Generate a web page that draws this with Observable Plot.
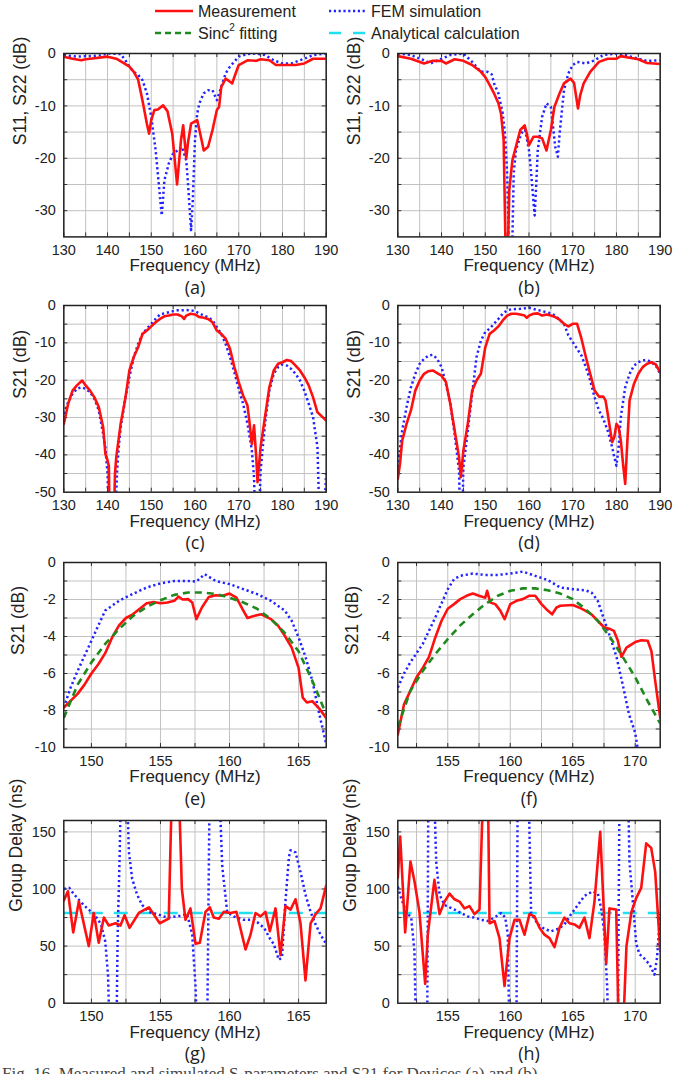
<!DOCTYPE html>
<html><head><meta charset="utf-8">
<script src="https://cdn.jsdelivr.net/npm/d3@7"></script>
<script src="https://cdn.jsdelivr.net/npm/@observablehq/plot@0.6"></script>
<style>
body{margin:0;background:#fff;}
#page{position:relative;width:674px;height:1074px;overflow:hidden;font-family:"Liberation Sans",Arial,sans-serif;color:#222;}
.panel{position:absolute;}
#legend{position:absolute;left:0;top:0;}
#figcap{position:absolute;left:2px;top:1064px;font-family:"Liberation Serif","Times New Roman",serif;font-size:17px;color:#444;white-space:nowrap;}
</style></head><body><div id="page">
<svg id="legend" width="674" height="46" font-family="Liberation Sans, Arial, sans-serif" font-size="16" fill="#222">
  <line x1="155" x2="193" y1="11" y2="11" stroke="#ff1010" stroke-width="2.5"/>
  <text x="198" y="11" dominant-baseline="central">Measurement</text>
  <line x1="329" x2="366" y1="11" y2="11" stroke="#2323ff" stroke-width="2.5" stroke-dasharray="2.2 2.6"/>
  <text x="371" y="11" dominant-baseline="central">FEM simulation</text>
  <line x1="155" x2="193" y1="33" y2="33" stroke="#1e8a1e" stroke-width="2.5" stroke-dasharray="6 4"/>
  <text x="198" y="33" dominant-baseline="central">Sinc<tspan dy="-6" font-size="10">2</tspan><tspan dy="6"> fitting</tspan></text>
  <line x1="329" x2="366" y1="33" y2="33" stroke="#1fe0f0" stroke-width="2.5" stroke-dasharray="12 12"/>
  <text x="371" y="33" dominant-baseline="central">Analytical calculation</text>
</svg>
<div id="figcap">Fig. 16. Measured and simulated S-parameters and S21 for Devices (a) and (b)</div>
</div>
<script>
// ---------- data ----------
const a_meas = [[130,-0.6],[132,-1.0],[134,-1.3],[135,-1.1],[137,-0.9],[140,-0.6],[142,-1.0],[144,-2.0],[145,-2.5],[146,-3.5],[147,-5],[148,-9],[149,-13.4],[149.5,-15.3],[150,-12.7],[150.7,-10.8],[151.5,-10.7],[152.7,-9.9],[153.7,-11],[154.8,-15.3],[155.9,-25],[156.8,-16.5],[157.3,-13.7],[158,-20],[158.4,-17],[159.1,-13.4],[160.5,-12.7],[161.5,-16.5],[162,-18.5],[163,-17.8],[164,-14.6],[165,-10.8],[165.5,-10.2],[166,-6.4],[167,-4.8],[168,-5.4],[168.5,-5.7],[169.2,-4],[170,-2.2],[172,-1.3],[174,-1.4],[175,-1.1],[177,-1.3],[178.5,-2.2],[180,-2.2],[183,-2.2],[185,-1.9],[187,-1.0],[190,-1.0]];
const a_fem = [[130,-0.3],[133,-0.6],[136,-0.5],[138,-0.4],[140,0],[143,-0.1],[144,-1.2],[145,-2.5],[146,-3.5],[147,-4.1],[148,-5.1],[149,-7.6],[150,-12.1],[151,-18.5],[152,-27.4],[152.4,-30.9],[153,-24.2],[154,-21],[155,-19.1],[156,-18.5],[157,-17.8],[158,-20.4],[158.5,-26],[159.1,-33.7],[159.5,-28],[160,-16.5],[160.5,-11.5],[161,-9.5],[162,-7.6],[163,-7],[164,-7],[165,-8.9],[166,-6.4],[167,-3.8],[168,-2.5],[170,-0.6],[172,-0.1],[174,0],[176,-0.3],[178,-1.3],[180,-1.9],[182,-1.9],[185,-1.0],[187,-0.3],[190,0]];
const b_meas = [[130,-0.5],[133,-1],[136,-1.9],[138,-1.4],[140,-1.4],[141,-1.9],[143,-1.1],[145,-1.4],[147,-2.2],[149,-3.5],[150,-4.5],[151,-6],[152,-7.6],[153,-9.5],[153.6,-11.5],[154.2,-16.5],[154.7,-40],[155.1,-40],[155.5,-26],[156.2,-20.4],[157,-17.8],[158,-14.6],[159,-13.7],[159.5,-15.3],[160,-17.5],[161,-15.9],[162,-15.9],[163,-16.2],[164,-18.5],[165,-14.6],[165.8,-10.2],[167,-7.6],[168,-5.7],[169.5,-4.8],[170.3,-5.6],[171.2,-10.5],[171.7,-8.0],[172.5,-5.7],[174,-3.5],[176,-1.6],[178,-1.0],[180,-1.0],[181,-0.5],[183,-0.8],[185,-1.1],[187,-1.8],[190,-2]];
const b_fem = [[130,0],[133,-0.3],[136,-1.3],[137.5,-1.9],[140,-1],[142,-0.3],[145,0],[147,-1.6],[149,-3.5],[150.5,-3.5],[151.5,-4.0],[152,-5.7],[153,-7.6],[154,-11.5],[154.5,-15.3],[155,-22.9],[155.5,-40],[156.1,-40],[156.5,-22.9],[157,-18.5],[158,-15.9],[159,-14],[160,-18.5],[160.5,-22.9],[161,-28],[161.3,-30.9],[161.7,-24.2],[162,-18.5],[163,-12.1],[164,-9.5],[165,-10.2],[165.5,-14],[166,-17.8],[166.6,-19.7],[167,-15.3],[168,-7],[169,-3.8],[170,-2.2],[171,-1.6],[173,-1.9],[175,-1.3],[177,-0.3],[180,0],[182,-0.3],[185,-1],[187,-1.4],[190,-1.3]];
const c_meas = [[130,-31.7],[131,-26.3],[132,-22.8],[133,-21.4],[134.2,-20.1],[135,-21.4],[136,-22.8],[137,-24.6],[138,-27.2],[139,-32.6],[139.5,-39.7],[140,-41.5],[140.3,-43],[140.45,-55],[141.5,-55],[141.7,-45],[142,-40.6],[143,-31.7],[144,-25.4],[145,-17.4],[146,-13.8],[147,-11.2],[148,-7.6],[149,-6.7],[150,-5.6],[151,-4.5],[152,-3.6],[153,-2.9],[154,-2.7],[155,-2.4],[156,-2.4],[157,-2.9],[157.5,-3.6],[158,-2.7],[159,-2.2],[160,-2.4],[161,-3.1],[162,-3.3],[163,-3.6],[164,-4.5],[165,-6.7],[166,-7.6],[167,-8.9],[168,-11.6],[169,-16.5],[170,-20.5],[171,-24.1],[172,-26.8],[172.5,-31.7],[173,-37.1],[173.5,-32.1],[174,-40.6],[174.3,-47.3],[175,-37.9],[176,-29.9],[177,-21.9],[178,-17.4],[179,-15.6],[180,-15.2],[181,-14.6],[182,-14.9],[183,-16.1],[184,-17.4],[185,-19.2],[186,-21.4],[187,-24.6],[188,-28.6],[189,-29.7],[190,-30.8]];
const c_fem = [[130,-29],[131,-25.9],[132,-23.7],[133,-22.3],[134,-21.9],[135,-22.3],[136,-23.2],[137,-25],[138,-28.1],[139,-34.4],[139.5,-38],[140,-45],[140.2,-55],[141.8,-55],[142.2,-44],[142.5,-38.8],[143,-32.6],[144,-25.4],[145,-19.2],[146,-13.8],[147,-10.3],[148,-7.6],[149,-6.2],[150,-4.9],[151,-3.6],[152,-2.4],[153,-2.1],[154,-1.8],[155,-1.5],[156,-1.3],[157,-1.3],[158,-1.2],[159,-1.3],[160,-1.5],[161,-2.1],[162,-2.7],[163,-3.1],[164,-4],[165,-5.8],[166,-7.6],[167,-10.3],[168,-13.8],[169,-17.9],[170,-22.3],[171,-26.3],[172,-31.7],[173,-38.8],[173.5,-46],[173.7,-55],[174.7,-55],[175,-44.2],[176,-31.7],[177,-22.8],[178,-18.3],[179,-16.5],[180,-15.8],[181,-16.1],[182,-17],[183,-18.3],[184,-20.1],[185,-22.8],[186,-26.3],[187,-29.9],[188,-37.9],[188.4,-55],[189.6,-55],[190,-44.6]];
const d_meas = [[130,-46.4],[130.5,-42.4],[131,-36.2],[132,-31.7],[133,-28.1],[134,-22.8],[135,-20.1],[136,-18.3],[137,-17.6],[138,-17.4],[139,-18.1],[140,-18.8],[141,-20.5],[142,-26.3],[143,-33.5],[144,-40.6],[144.4,-46],[145,-38.8],[146,-31.7],[147,-22.8],[148,-20.1],[149,-18.3],[150,-11.2],[151,-7.6],[152,-6.7],[153,-5.6],[154,-4],[155,-2.7],[156,-2.2],[157,-2.2],[158,-2.4],[159,-2.7],[159.5,-3.3],[160,-2.7],[161,-2.2],[162,-2.1],[163,-2.7],[164,-2.4],[165,-2.7],[166,-3.1],[167,-3.8],[168,-4.9],[169,-5.6],[170,-4.9],[171,-4.9],[172,-8.9],[173,-13.8],[174,-18.3],[175,-22.8],[176,-24.4],[177,-24.4],[177.5,-25.4],[178,-29],[179,-36.6],[179.5,-35.3],[180,-31.7],[180.5,-32.6],[181,-36.2],[181.5,-42.4],[182,-47.8],[182.5,-36.2],[183,-25.4],[184,-21],[185,-18.3],[186,-16.5],[187,-15.6],[188,-15.2],[189,-15.8],[190,-17.9]];
const d_fem = [[130,-43.3],[131,-33.5],[132,-27.2],[133,-21.9],[134,-18.3],[135,-15.6],[136,-14.3],[137,-13.4],[138,-13.2],[139,-14.3],[140,-16.5],[141,-21],[142,-26.3],[143,-34.4],[144,-44.2],[144.2,-55],[144.8,-55],[145,-43.3],[146,-33.5],[147,-23.7],[148,-13.8],[149,-9.4],[150,-7.1],[151,-6.2],[152,-4.9],[153,-3.6],[154,-2.2],[155,-1.3],[156,-1],[158,-0.9],[160,-0.6],[161,-0.9],[162,-1.2],[163,-1.5],[164,-1.8],[165,-2.1],[166,-2.7],[167,-3.8],[168,-4.9],[169,-8],[170,-9.8],[171,-11.6],[172,-13.4],[173,-16.5],[174,-20.1],[175,-24.6],[176,-28.1],[177,-30.4],[178,-33.5],[179,-37.9],[179.5,-40.6],[180,-42.9],[180.5,-37.9],[181,-29.9],[182,-21.9],[183,-18.3],[184,-16.1],[185,-15.2],[186,-14.7],[187,-14.6],[188,-15.2],[189,-16.1],[190,-18.3]];
const e_meas = [[148,-7.84],[149,-7.1],[149.5,-6.6],[150,-6.0],[150.5,-5.5],[151,-4.9],[151.5,-4.05],[152,-3.4],[152.5,-3.0],[153,-2.8],[153.5,-2.5],[154,-2.2],[154.5,-2.13],[155,-2.2],[155.5,-2.16],[156,-2.07],[156.3,-1.84],[156.6,-2.0],[157,-1.98],[157.3,-2.16],[157.6,-3.06],[158,-2.43],[158.5,-1.86],[159,-1.77],[159.5,-1.8],[160,-1.68],[160.5,-1.9],[161,-2.6],[161.3,-3.0],[161.7,-2.9],[162.3,-2.8],[163,-3.06],[163.5,-3.4],[164,-3.96],[164.5,-4.6],[165,-5.7],[165.3,-7.3],[165.6,-7.57],[166,-7.5],[166.5,-7.9],[167,-8.4]];
const e_fem = [[148,-7.84],[148.5,-6.75],[149,-5.86],[150,-4.23],[150.5,-3.4],[151,-2.6],[152,-2.07],[153,-1.7],[154,-1.35],[155,-1.13],[156,-1.0],[157,-1.0],[157.6,-1.03],[158.2,-0.63],[159,-1.0],[160,-1.17],[161,-1.44],[162,-1.71],[163,-2.07],[164,-2.6],[164.5,-3.15],[165,-4.05],[165.5,-5.1],[166,-6.4],[166.5,-8.2],[167,-9.8]];
const e_sinc = [[148,-8.4],[149,-6.6],[150,-5.4],[151,-4.4],[152,-3.6],[153,-2.9],[154,-2.4],[155,-2.04],[156,-1.75],[157,-1.62],[158,-1.62],[159,-1.7],[160,-1.9],[161,-2.16],[162,-2.5],[163,-3.06],[164,-3.8],[165,-4.8],[166,-6.4],[167,-8.2]];
const f_meas = [[151,-9.3],[151.5,-7.66],[152,-6.94],[152.5,-6.2],[153,-5.7],[153.5,-5.1],[154,-4.05],[154.5,-3.15],[155,-2.5],[155.5,-2.25],[156,-1.98],[156.5,-1.8],[157,-1.68],[157.5,-1.8],[158,-1.9],[158.15,-1.53],[158.4,-2.16],[158.8,-2.25],[159.2,-2.6],[159.55,-3.06],[160,-2.25],[160.5,-2.07],[161,-1.98],[161.5,-1.8],[162,-1.8],[162.5,-2.25],[163,-2.6],[163.35,-2.8],[163.7,-2.43],[164,-2.34],[165,-2.3],[165.5,-2.43],[166,-2.6],[166.5,-2.8],[167,-3.15],[167.5,-3.5],[168,-3.6],[168.3,-3.7],[168.6,-4.2],[168.9,-5.1],[169.3,-4.6],[170,-4.3],[170.5,-4.2],[171,-4.23],[171.3,-4.8],[171.6,-6.4],[172,-8.4]];
const f_fem = [[151,-6.76],[151.5,-6.0],[152,-5.4],[153,-4.4],[154,-2.97],[155,-1.44],[155.5,-0.9],[156,-0.72],[157,-0.6],[158,-0.67],[159,-0.67],[160,-0.6],[161,-0.49],[162,-0.72],[163,-0.95],[164,-1.35],[165,-1.44],[166,-1.5],[166.5,-1.62],[167,-2.07],[167.5,-3.06],[168,-4.05],[168.5,-5.1],[169,-6.6],[169.5,-8.2],[170,-9.2],[170.3,-10.5]];
const f_sinc = [[151,-8.9],[152,-6.94],[153,-5.86],[154,-4.95],[155,-4.14],[156,-3.4],[157,-2.8],[158,-2.25],[159,-1.8],[160,-1.53],[161,-1.4],[162,-1.4],[163,-1.5],[164,-1.68],[165,-1.98],[166,-2.5],[167,-3.15],[168,-4.05],[169,-5.1],[170,-6.2],[171,-7.5],[172,-8.7]];
const g_meas = [[148,90],[148.3,98],[148.68,62],[149.09,89],[149.81,50],[150.17,79],[150.53,53],[150.9,75],[151.26,68],[151.74,70],[152.1,68],[152.4,77],[152.76,66],[153.43,79],[154.16,84],[154.95,70],[155.6,74],[155.85,200],[156.3,200],[156.55,100],[156.81,73],[157.17,83],[157.54,52],[157.85,53],[158.26,80],[158.57,84],[158.86,75],[159.23,74],[159.59,80],[160.07,79],[160.5,80],[161.16,47],[161.52,60],[161.88,79],[162.24,76],[162.6,80],[162.92,63],[163.33,83],[163.69,42],[164.05,85],[164.42,82],[164.78,91],[165.14,70],[165.5,20],[165.87,70],[166.23,78],[166.59,83],[167,103]];
const g_fem = [[148,100],[148.4,101],[148.7,96],[149.2,89],[149.7,83],[150.2,78],[150.7,69],[151.0,54],[151.2,25],[151.33,-30],[151.81,-30],[151.9,60],[152.05,133],[152.15,200],[152.54,200],[152.71,133],[152.95,109],[153.31,95],[153.67,86],[154.16,80],[154.76,78],[155.48,75],[156.21,76],[156.93,78],[157.3,60],[157.54,14],[157.66,-30],[158.38,-30],[158.57,200],[159.23,200],[159.47,120],[159.83,80],[160.3,76],[161,73],[161.8,73],[162.5,66],[163.0,55],[163.2,52],[163.57,38],[163.8,40],[164.05,89],[164.3,128],[164.42,134],[164.78,132],[165.14,115],[165.5,95],[165.87,80],[166.23,69],[166.59,60],[167,52]];
const g_analytic = [[148,79],[167,79]];
const h_meas = [[151,110],[151.19,146],[151.59,62],[152.01,124],[152.33,107],[152.73,80],[153.19,17],[153.4,60],[153.93,108],[154.34,78],[154.74,89],[155.14,96],[155.54,91],[155.94,89],[156.34,83],[156.74,85],[157.14,78],[157.54,82],[157.86,200],[158.2,200],[158.34,70],[158.74,72],[159.14,57],[159.54,15],[159.94,57],[160.34,73],[160.74,73],[161.14,60],[161.54,78],[161.94,76],[162.34,66],[162.74,60],[163.14,57],[163.54,49],[163.94,66],[164.34,75],[164.74,70],[165.14,69],[165.54,66],[165.94,75],[166.34,57],[166.74,89],[167.2,150],[167.68,35],[167.94,83],[168.48,82],[168.69,-30],[169.01,-30],[169.3,50],[169.7,80],[170.08,92],[170.48,101],[170.88,140],[171.28,136],[171.6,115],[172,46]];
const h_fem = [[151,102],[151.27,92],[151.67,80],[152.07,75],[152.33,46],[152.47,-30],[153.35,-30],[153.45,200],[153.88,200],[154.07,124],[154.34,95],[154.74,86],[155.14,84],[155.54,82],[156.07,79],[156.6,76],[157.14,75],[157.67,73],[158.2,72],[158.74,75],[159.27,79],[159.6,75],[159.8,60],[159.94,-30],[160.49,-30],[160.6,200],[161.45,200],[161.67,79],[162.21,69],[162.74,65],[163.27,63],[163.81,65],[164.34,69],[164.87,78],[165.41,86],[165.94,94],[166.61,98],[167.01,96],[167.28,83],[167.54,60],[167.76,14],[167.86,-30],[168.61,-30],[168.75,200],[169.41,200],[169.54,124],[169.81,89],[170.08,52],[170.34,43],[170.74,39],[171.14,34],[171.54,25],[171.75,40],[172,78]];
const h_analytic = [[151,79],[172,79]];

const ticksWide = [130,140,150,160,170,180,190];
const gridWide = [130,135,140,145,150,155,160,165,170,175,180,185,190];
const ticksE = [150,155,160,165];
const gridE = [150,152.5,155,157.5,160,162.5,165];
const ticksF = [155,160,165,170];
const gridF = [152.5,155,157.5,160,162.5,165,167.5,170];
const yTicksA = [0,-10,-20,-30];
const yGridA = [0,-5,-10,-15,-20,-25,-30];
const yTicksC = [0,-10,-20,-30,-40,-50];
const yGridC = [0,-5,-10,-15,-20,-25,-30,-35,-40,-45];
const yTicksE = [0,-2,-4,-6,-8,-10];
const yGridE = [0,-1,-2,-3,-4,-5,-6,-7,-8,-9];
const yTicksG = [0,50,100,150];
const yGridG = [25,50,75,100,125,150];
const captions = ["(a)","(b)","(c)","(d)","(e)","(f)","(g)","(h)"];

// ---------- styles ----------
const ST = {
  meas: {stroke:"#ff1010", strokeWidth:2.6},
  fem: {stroke:"#2323ff", strokeWidth:2.5, strokeDasharray:"2.2 2.8", strokeLinecap:"butt"},
  sinc: {stroke:"#1e8a1e", strokeWidth:2.6, strokeDasharray:"7 5", strokeLinecap:"butt"},
  ana: {stroke:"#1fe0f0", strokeWidth:2.6, strokeDasharray:"14 11", strokeLinecap:"butt"}
};

const rows = [
  {top:53.3, h:183.4},
  {top:305, h:186.7},
  {top:561.7, h:185},
  {top:820, h:182.7}
];

function panel(cfg) {
  const W = 337, mL = 63.3, mR = 11.3, mT = 14, mB = 72;
  const row = rows[cfg.row];
  const H = mT + row.h + mB;
  const [x0, x1] = cfg.xDomain, [y0, y1] = cfg.yDomain;
  const tY = 4 / row.h * (y1 - y0), tX = 4 / (W - mL - mR) * (x1 - x0);
  const marks = [
    Plot.gridX(cfg.xGrid, {stroke:"#c2c2c2", strokeOpacity:1, strokeWidth:1}),
    Plot.gridY(cfg.yGrid, {stroke:"#c2c2c2", strokeOpacity:1, strokeWidth:1}),
    Plot.ruleX(cfg.xGrid, {x: d => d, y1: y0, y2: y0 + tY, stroke:"#333"}),
    Plot.ruleX(cfg.xGrid, {x: d => d, y1: y1, y2: y1 - tY, stroke:"#333"}),
    Plot.ruleY(cfg.yGrid, {y: d => d, x1: x0, x2: x0 + tX, stroke:"#333"}),
    Plot.ruleY(cfg.yGrid, {y: d => d, x1: x1, x2: x1 - tX, stroke:"#333"})
  ];
  for (const s of cfg.series) {
    marks.push(Plot.line(s.data, {x: d => d[0], y: d => d[1], clip: true, ...ST[s.style]}));
  }
  marks.push(
    Plot.frame({stroke:"#222", strokeWidth:1.5}),
    Plot.axisX(cfg.xTicks, {tickSize:0, tickPadding:8, tickFormat: d => String(d), label:null, fontSize:14.5}),
    Plot.axisY(cfg.yTicks, {tickSize:0, tickPadding:8, tickFormat: d => String(d), label:null, fontSize:14.5}),
    Plot.text(["Frequency (MHz)"], {text: d => d, frameAnchor:"bottom", dy:34.5, fontSize:17}),
    Plot.text([cfg.ylabel], {text: d => d, frameAnchor:"left", rotate:-90, dx:cfg.ydx, fontSize:17.5}),
    Plot.text([captions[cfg.idx]], {text: d => d, frameAnchor:"bottom", dy:57, fontSize:18, fontFamily:"Open Sans, Noto Sans, sans-serif"})
  );
  const svg = Plot.plot({
    width: W, height: H,
    marginLeft: mL, marginRight: mR, marginTop: mT, marginBottom: mB,
    x: {domain: cfg.xDomain},
    y: {domain: cfg.yDomain},
    style: {fontFamily:"Liberation Sans, Arial, sans-serif", color:"#222", background:"transparent", overflow:"visible"},
    marks
  });
  const div = document.createElement("div");
  div.className = "panel";
  div.style.left = (cfg.col ? 334 : 0) + "px";
  div.style.top = (row.top - mT) + "px";
  div.appendChild(svg);
  document.getElementById("page").appendChild(div);
}

const defs = [
  {idx:0,row:0,col:0,xDomain:[130,190],yDomain:[-35,0],xTicks:ticksWide,xGrid:gridWide,yTicks:yTicksA,yGrid:yGridA,ylabel:"S11, S22 (dB)",ydx:-43,series:[{data:a_fem,style:"fem"},{data:a_meas,style:"meas"}]},
  {idx:1,row:0,col:1,xDomain:[130,190],yDomain:[-35,0],xTicks:ticksWide,xGrid:gridWide,yTicks:yTicksA,yGrid:yGridA,ylabel:"S11, S22 (dB)",ydx:-43,series:[{data:b_fem,style:"fem"},{data:b_meas,style:"meas"}]},
  {idx:2,row:1,col:0,xDomain:[130,190],yDomain:[-50,0],xTicks:ticksWide,xGrid:gridWide,yTicks:yTicksC,yGrid:yGridC,ylabel:"S21 (dB)",ydx:-43,series:[{data:c_fem,style:"fem"},{data:c_meas,style:"meas"}]},
  {idx:3,row:1,col:1,xDomain:[130,190],yDomain:[-50,0],xTicks:ticksWide,xGrid:gridWide,yTicks:yTicksC,yGrid:yGridC,ylabel:"S21 (dB)",ydx:-43,series:[{data:d_fem,style:"fem"},{data:d_meas,style:"meas"}]},
  {idx:4,row:2,col:0,xDomain:[148,167],yDomain:[-10,0],xTicks:ticksE,xGrid:gridE,yTicks:yTicksE,yGrid:yGridE,ylabel:"S21 (dB)",ydx:-45,series:[{data:e_fem,style:"fem"},{data:e_meas,style:"meas"},{data:e_sinc,style:"sinc"}]},
  {idx:5,row:2,col:1,xDomain:[151,172],yDomain:[-10,0],xTicks:ticksF,xGrid:gridF,yTicks:yTicksE,yGrid:yGridE,ylabel:"S21 (dB)",ydx:-45,series:[{data:f_fem,style:"fem"},{data:f_meas,style:"meas"},{data:f_sinc,style:"sinc"}]},
  {idx:6,row:3,col:0,xDomain:[148,167],yDomain:[0,160],xTicks:ticksE,xGrid:gridE,yTicks:yTicksG,yGrid:yGridG,ylabel:"Group Delay (ns)",ydx:-47,series:[{data:g_analytic,style:"ana"},{data:g_fem,style:"fem"},{data:g_meas,style:"meas"}]},
  {idx:7,row:3,col:1,xDomain:[151,172],yDomain:[0,160],xTicks:ticksF,xGrid:gridF,yTicks:yTicksG,yGrid:yGridG,ylabel:"Group Delay (ns)",ydx:-47,series:[{data:h_analytic,style:"ana"},{data:h_fem,style:"fem"},{data:h_meas,style:"meas"}]}
];
defs.forEach(panel);
</script>
</body></html>
